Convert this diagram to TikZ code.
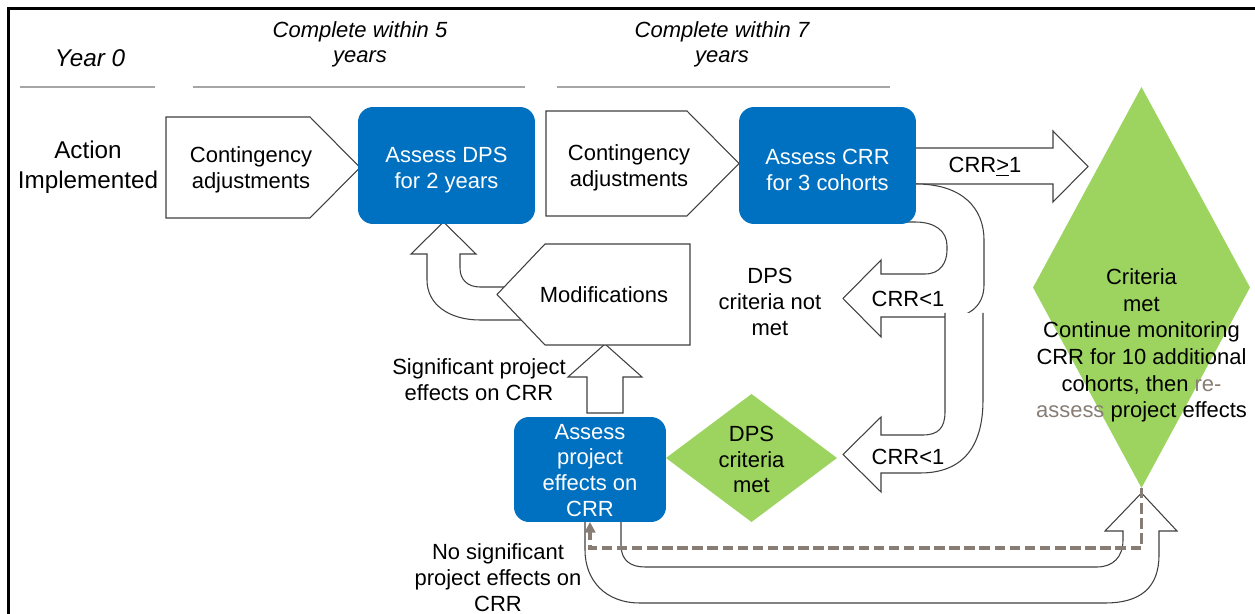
\documentclass[tikz,border=0pt]{standalone}
\usepackage{fontspec}
\setmainfont{Liberation Sans}
\usetikzlibrary{shapes.geometric,arrows.meta}
\definecolor{bblue}{HTML}{0070C0}
\definecolor{lgreen}{HTML}{9CD45F}
\definecolor{dgrey}{HTML}{877D75}
\definecolor{hline}{HTML}{A6A6A6}
\definecolor{outl}{HTML}{404040}
\begin{document}
\begin{tikzpicture}[x=0.02cm,y=-0.02cm,
  txt/.style={font=\fontsize{12.5}{14.75}\selectfont, align=center, inner sep=0pt},
  bigtxt/.style={txt, font=\fontsize{13.8}{17}\selectfont},
  headtxt/.style={txt, font=\fontsize{12.5}{14.2}\selectfont\itshape},
  bluebox/.style={fill=bblue, rounded corners=0.3cm, inner sep=0pt, outer sep=0pt},
  wtxt/.style={txt, text=white},
  greendia/.style={diamond, fill=lgreen, inner sep=0pt, outer sep=0pt},
  blockarrow/.style={fill=white, draw=outl, line width=0.6pt, line join=miter},
  pentabox/.style={fill=white, draw=outl, line width=0.6pt},
  hl/.style={draw=hline, line width=0.9pt},
  dashconn/.style={draw=dgrey, line width=2pt, dash pattern=on 6pt off 2.6pt, -{Triangle[length=6pt,width=6pt]}}
]
\useasboundingbox (0,0) rectangle (1255,614);
% frame
\draw[line width=1.7pt] (8.5,620) -- (8.5,8.5) -- (1260,8.5);

% headers
\node[bigtxt, font=\fontsize{13.8}{17}\selectfont\itshape] (y0) at (90,58) {Year 0};
\node[headtxt] (h5) at (360,44) {Complete within 5\\years};
\node[headtxt] (h7) at (722,44) {Complete within 7\\years};
\draw[hl] (20,87) -- (155,87);
\draw[hl] (193,87) -- (525,87);
\draw[hl] (557,87) -- (890,87);

\node[bigtxt] (act) at (88,167) {Action\\Implemented};

% block arrows
% CRR >= 1
\filldraw[blockarrow] (905,148) -- (1053,148) -- (1053,131) -- (1088,166.5) -- (1053,202) -- (1053,184) -- (905,184) -- cycle;
% upper U-turn CRR<1
\filldraw[blockarrow] (900,184) -- (916,184) .. controls (962,184) and (984,208) .. (984,240) -- (984,285)
  .. controls (984,305) and (970,317) .. (950,317) -- (881,317) -- (881,337) -- (843,298.5) -- (881,260) -- (881,274)
  -- (925,274) .. controls (940,274) and (947,263) .. (947,250) -- (947,246) .. controls (947,231) and (935,222) .. (915,222) -- (900,222) -- cycle;
% lower U-turn CRR<1 (open top)
\filldraw[blockarrow] (945,313) -- (945,412) .. controls (945,428) and (938,435) .. (923,435) -- (881,435) -- (881,417) -- (843,454.5) -- (881,492) -- (881,473)
  -- (920,473) .. controls (960,473) and (983,450) .. (983,400) -- (983,313);
% modifications U-turn up to Assess DPS
\filldraw[blockarrow] (530,287) -- (480,287) .. controls (468,287) and (460,280) .. (460,268) -- (460,254) -- (476,254) -- (443.5,222) -- (411,254) -- (427,254)
  -- (427,280) .. controls (427,305) and (450,320) .. (480,320) -- (530,320) -- cycle;
% significant up arrow
\filldraw[blockarrow] (587,413) -- (587,377) -- (568,377) -- (605,344) -- (642,377) -- (623,377) -- (623,413) -- cycle;
% bottom big U-turn
\filldraw[blockarrow] (621,515) -- (621,545) .. controls (621,560) and (630,567) .. (645,567) -- (1097,567) .. controls (1113,567) and (1123,557) .. (1123,540)
  -- (1123,531) -- (1105,531) -- (1141.5,493) -- (1177,531) -- (1159,531) -- (1159,555) .. controls (1159,588) and (1140,603) .. (1105,603)
  -- (640,603) .. controls (605,603) and (585,580) .. (585,550) -- (585,515);

% pentagons
\filldraw[pentabox] (166,117) -- (310,117) -- (360,167.5) -- (310,218) -- (166,218) -- cycle;
\filldraw[pentabox] (546,111) -- (687,111) -- (739,163.5) -- (687,216) -- (546,216) -- cycle;
\filldraw[pentabox] (690,244) -- (545,244) -- (497,294.5) -- (545,345) -- (690,345) -- cycle;

% blue boxes
\node[bluebox, minimum width=3.54cm, minimum height=2.34cm] (dps) at (446.5,165.5) {};
\node[bluebox, minimum width=3.54cm, minimum height=2.34cm] (crr) at (827.5,165.5) {};
\node[bluebox, minimum width=3.04cm, minimum height=2.1cm] (apx) at (590,469.5) {};
\node[wtxt] (dpst) at (446.5,170) {Assess DPS\\for 2 years};
\node[wtxt] (crrt) at (827.5,170) {Assess CRR\\for 3 cohorts};
\node[wtxt] (apxt) at (590,470.5) {Assess\\project\\effects on\\CRR};

% diamonds
\node[greendia, minimum width=3.42cm, minimum height=2.56cm] (dpsmet) at (751.5,458) {};
\node[greendia, minimum width=4.34cm, minimum height=8.02cm] (crit) at (1141.5,287.5) {};

% texts
\node[txt] (c1t) at (251,170) {Contingency\\adjustments};
\node[txt] (c2t) at (629,167.5) {Contingency\\adjustments};
\node[txt] (modt) at (604,295) {Modifications};
\node[txt] (notmet) at (770,302) {DPS\\criteria not\\met};
\node[txt] (lt1) at (908,299) {CRR<1};
\node[txt] (lt2) at (908,457) {CRR<1};
\node[txt] (ge) at (985,167) {CRR\underline{>}1};
\node[txt] (sig) at (479,380) {Significant project\\effects on CRR};
\node[txt] (nosig) at (498,578) {No significant\\project effects on\\CRR};
\node[txt] (dpsmett) at (751.5,459.5) {DPS\\criteria\\met};
\node[txt, font=\fontsize{12.5}{15.2}\selectfont] (critt) at (1141.5,345.5) {Criteria\\met\\Continue monitoring\\CRR for 10 additional\\cohorts, then \textcolor{dgrey}{re-}\\\textcolor{dgrey}{assess} project effects};

% dashed connector
\coordinate (dashturn) at (1141.5,548);
\draw[dashconn] (crit.south) -- (dashturn) -| (apx.south);
\end{tikzpicture}
\end{document}
